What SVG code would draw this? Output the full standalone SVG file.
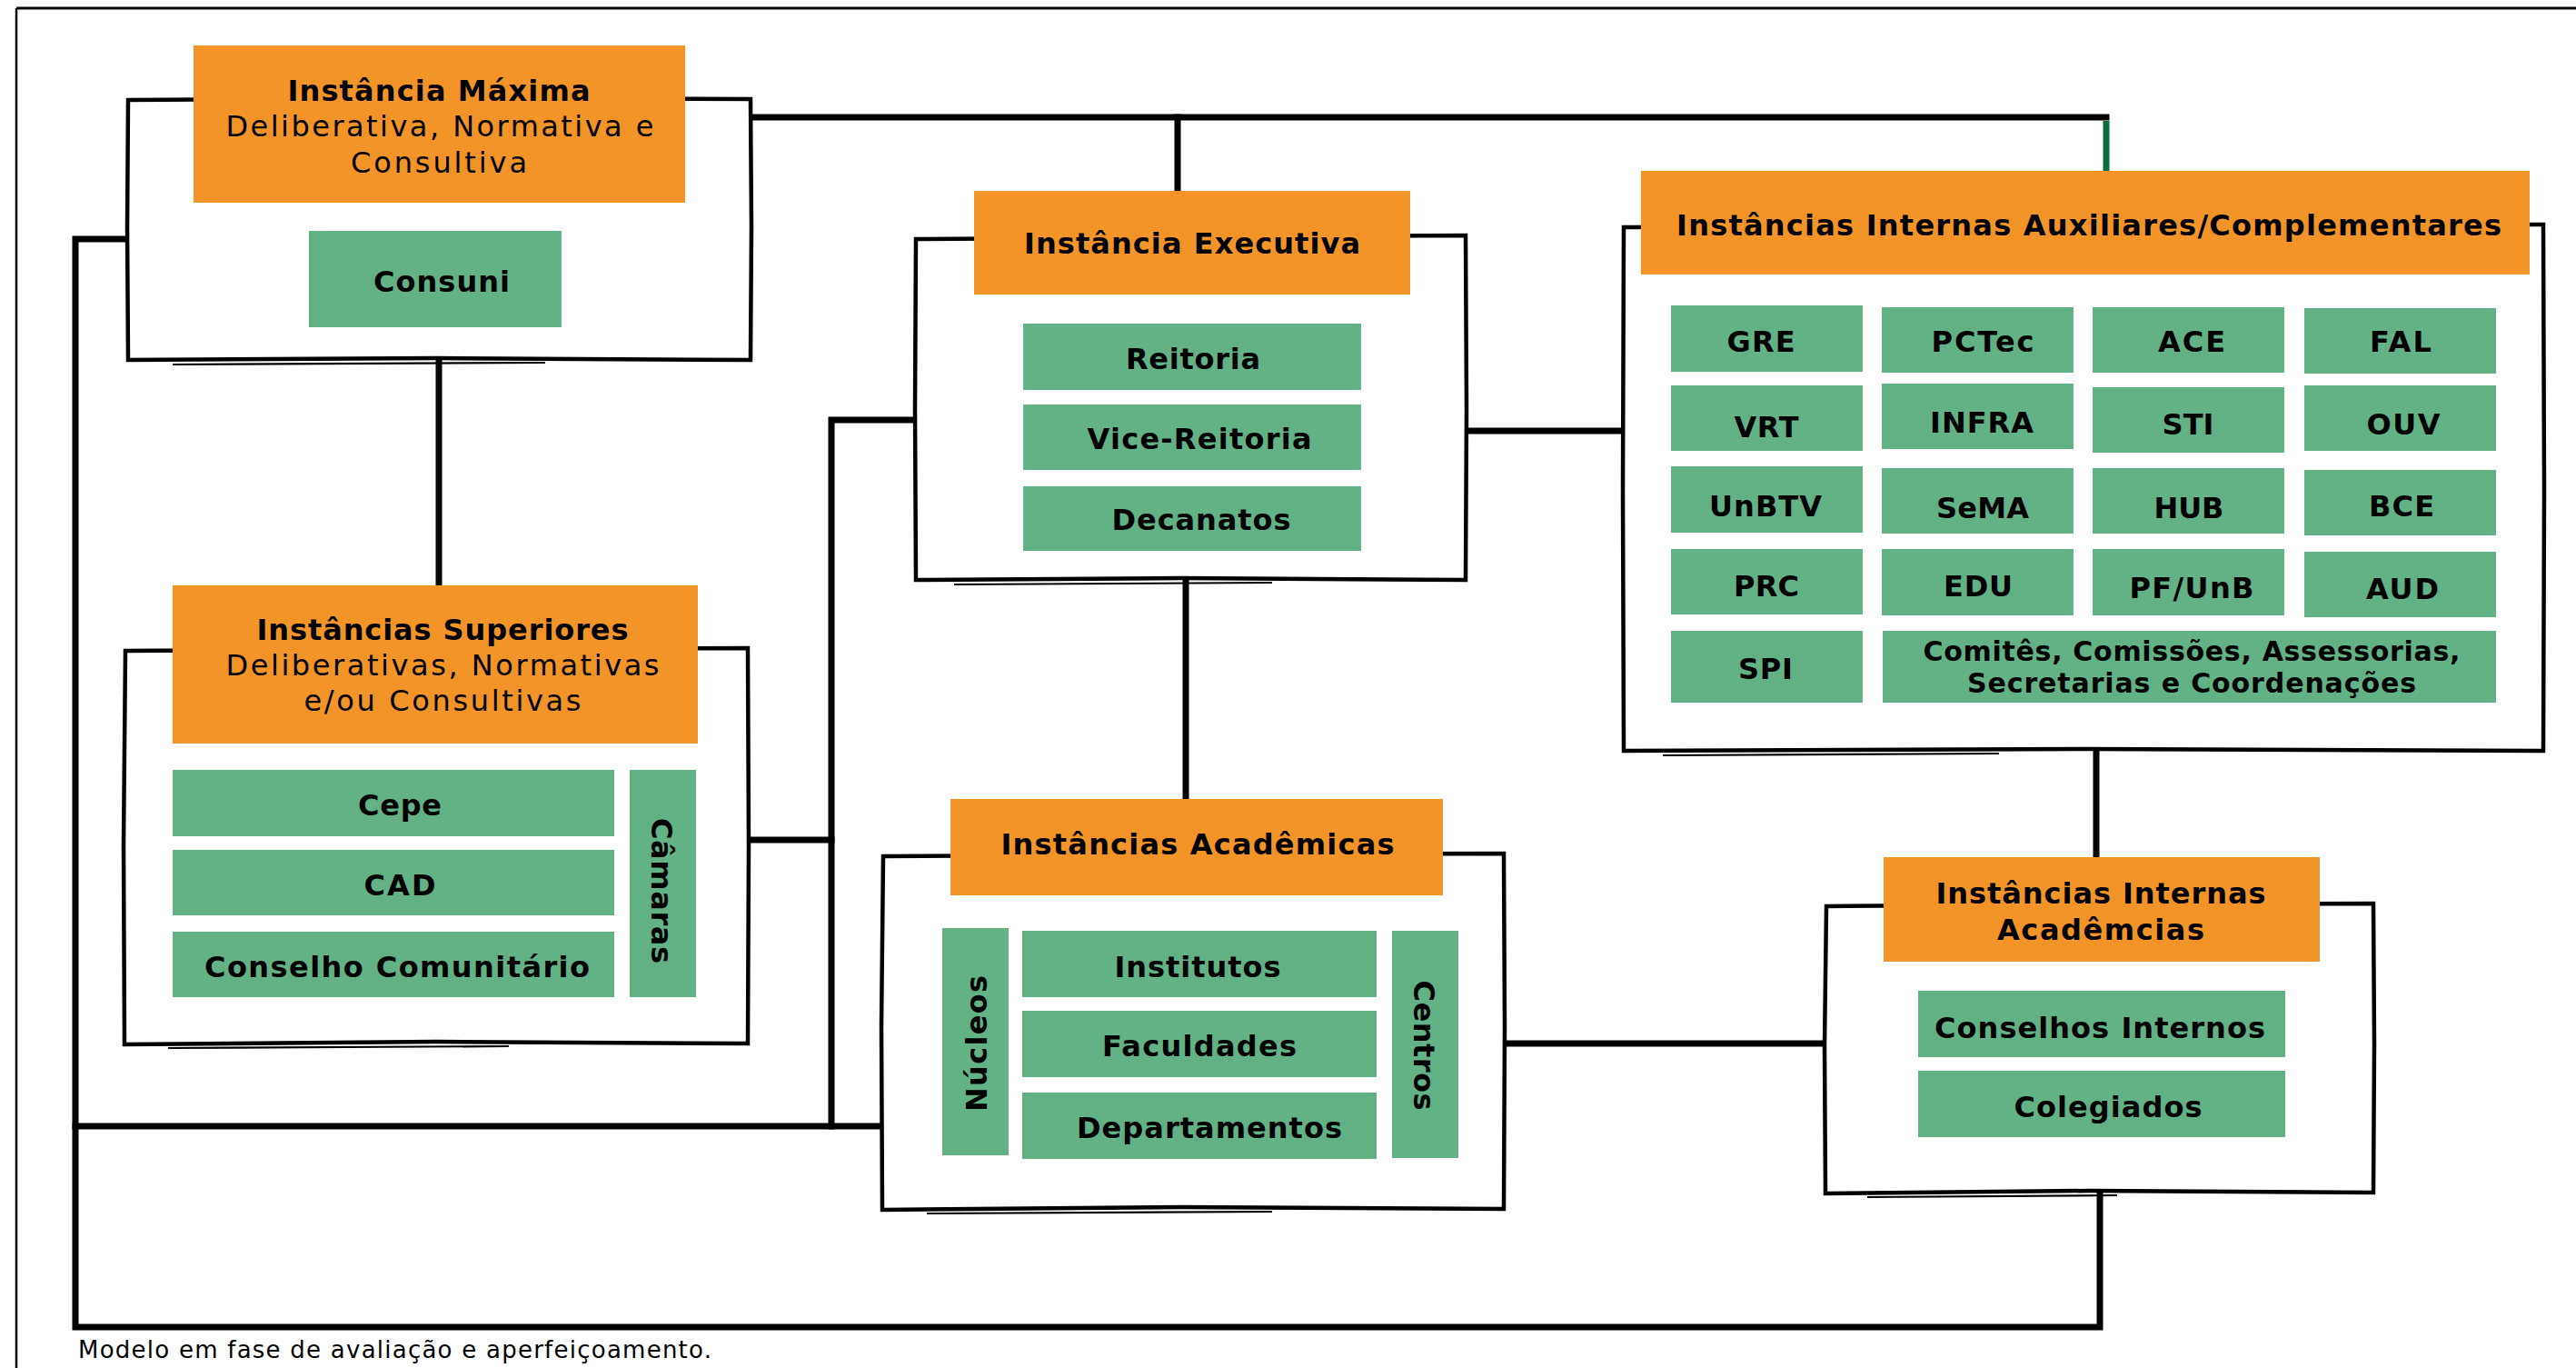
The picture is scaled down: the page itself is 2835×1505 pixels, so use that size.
<svg xmlns="http://www.w3.org/2000/svg" width="2835" height="1505" viewBox="0 0 2835 1505">
<style>
.box{fill:#ffffff;stroke:#000;stroke-width:4.5;stroke-linejoin:miter}
.sk{fill:none;stroke:#000;stroke-width:2.2}
.or{fill:#F29427}
.gr{fill:#63B286}
.cn{fill:none;stroke:#000;stroke-width:7;stroke-linecap:square}
.b{font-family:"DejaVu Sans","Open Sans",sans-serif;font-weight:700;font-size:32px;fill:#000;text-anchor:middle}
.s{font-family:"DejaVu Sans","Open Sans",sans-serif;font-weight:700;font-size:30px;fill:#000;text-anchor:middle}
.r{font-family:"DejaVu Sans","Open Sans",sans-serif;font-weight:400;font-size:32px;fill:#000;text-anchor:middle}
.f{font-family:"DejaVu Sans","Open Sans",sans-serif;font-weight:400;font-size:26px;fill:#000}
</style>
<rect width="2835" height="1505" fill="#fff"/>
<g id="frame">
<path d="M18,9 L2835,9" stroke="#000" stroke-width="3" fill="none"/>
<path d="M18,9 L18,1505" stroke="#000" stroke-width="2.5" fill="none"/>
</g>
<g id="connectors">
<path class="cn" d="M826,129 L2318,129"/>
<path d="M2318,133 L2318,190" stroke="#0B6B3A" stroke-width="7" fill="none"/>
<path class="cn" d="M1296,129 L1296,210"/>
<path class="cn" d="M141,263 L83,263 L83,1460 L2311,1460 L2311,1312"/>
<path class="cn" d="M483,396 L483,644"/>
<path class="cn" d="M83,1239 L971,1239"/>
<path class="cn" d="M1007,462 L915,462 L915,1239"/>
<path class="cn" d="M823,924 L915,924"/>
<path class="cn" d="M1613,474 L1786,474"/>
<path class="cn" d="M1305,638 L1305,879"/>
<path class="cn" d="M1655,1148 L2009,1148"/>
<path class="cn" d="M2307,826 L2307,943"/>
</g>
<g id="maxima">
<path class="box" d="M141,110 L480,108 L826,109 L827,250 L826,396 L480,394 L141,396 L140,250 Z"/>
<path class="sk" d="M190,401 L600,399"/>
<rect class="or" x="213" y="50" width="541" height="173"/>
<text class="b" x="483" y="111" textLength="333" lengthAdjust="spacing">Instância Máxima</text>
<text class="r" x="484" y="150" textLength="471" lengthAdjust="spacing">Deliberativa, Normativa e</text>
<text class="r" x="483" y="190" textLength="194" lengthAdjust="spacing">Consultiva</text>
<rect class="gr" x="340" y="254" width="278" height="106"/>
<text class="b" x="486" y="321" textLength="150" lengthAdjust="spacing">Consuni</text>
</g>
<g id="executiva">
<path class="box" d="M1008,263 L1300,261 L1613,259 L1614,450 L1613,638 L1300,636 L1008,638 L1007,450 Z"/>
<path class="sk" d="M1050,643 L1400,641"/>
<rect class="or" x="1072" y="210" width="480" height="114"/>
<text class="b" x="1312" y="279" textLength="370" lengthAdjust="spacing">Instância Executiva</text>
<rect class="gr" x="1126" y="356" width="372" height="73"/>
<text class="b" x="1313" y="406" textLength="148" lengthAdjust="spacing">Reitoria</text>
<rect class="gr" x="1126" y="445" width="372" height="72"/>
<text class="b" x="1320" y="494" textLength="247" lengthAdjust="spacing">Vice-Reitoria</text>
<rect class="gr" x="1126" y="535" width="372" height="71"/>
<text class="b" x="1322" y="583" textLength="197" lengthAdjust="spacing">Decanatos</text>
</g>
<g id="auxiliares">
<path class="box" d="M1787,250 L2300,249 L2799,247 L2800,540 L2799,826 L2300,824 L1787,826 L1786,540 Z"/>
<path class="sk" d="M1830,831 L2200,829"/>
<rect class="or" x="1806" y="188" width="978" height="114"/>
<text class="b" x="2299" y="259" textLength="908" lengthAdjust="spacing">Instâncias Internas Auxiliares/Complementares</text>
<rect class="gr" x="1839" y="336" width="211" height="73"/>
<rect class="gr" x="2071" y="338" width="211" height="72"/>
<rect class="gr" x="2303" y="338" width="211" height="72"/>
<rect class="gr" x="2536" y="339" width="211" height="72"/>
<rect class="gr" x="1839" y="424" width="211" height="72"/>
<rect class="gr" x="2071" y="422" width="211" height="72"/>
<rect class="gr" x="2303" y="426" width="211" height="72"/>
<rect class="gr" x="2536" y="424" width="211" height="72"/>
<rect class="gr" x="1839" y="513" width="211" height="73"/>
<rect class="gr" x="2071" y="515" width="211" height="72"/>
<rect class="gr" x="2303" y="515" width="211" height="72"/>
<rect class="gr" x="2536" y="517" width="211" height="72"/>
<rect class="gr" x="1839" y="604" width="211" height="72"/>
<rect class="gr" x="2071" y="604" width="211" height="73"/>
<rect class="gr" x="2303" y="604" width="211" height="73"/>
<rect class="gr" x="2536" y="607" width="211" height="72"/>
<rect class="gr" x="1839" y="694" width="211" height="79"/>
<rect class="gr" x="2072" y="694" width="675" height="79"/>
<text class="b" x="1938" y="387" textLength="75" lengthAdjust="spacing">GRE</text>
<text class="b" x="2182" y="387" textLength="113" lengthAdjust="spacing">PCTec</text>
<text class="b" x="2412" y="387" textLength="74" lengthAdjust="spacing">ACE</text>
<text class="b" x="2642" y="387" textLength="68" lengthAdjust="spacing">FAL</text>
<text class="b" x="1944" y="481" textLength="71" lengthAdjust="spacing">VRT</text>
<text class="b" x="2181" y="476" textLength="114" lengthAdjust="spacing">INFRA</text>
<text class="b" x="2408" y="478" textLength="57" lengthAdjust="spacing">STI</text>
<text class="b" x="2645" y="478" textLength="81" lengthAdjust="spacing">OUV</text>
<text class="b" x="1943" y="568" textLength="124" lengthAdjust="spacing">UnBTV</text>
<text class="b" x="2182" y="570" textLength="102" lengthAdjust="spacing">SeMA</text>
<text class="b" x="2409" y="570" textLength="77" lengthAdjust="spacing">HUB</text>
<text class="b" x="2643" y="568" textLength="72" lengthAdjust="spacing">BCE</text>
<text class="b" x="1944" y="656" textLength="72" lengthAdjust="spacing">PRC</text>
<text class="b" x="2177" y="656" textLength="76" lengthAdjust="spacing">EDU</text>
<text class="b" x="2412" y="658" textLength="137" lengthAdjust="spacing">PF/UnB</text>
<text class="b" x="2644" y="659" textLength="80" lengthAdjust="spacing">AUD</text>
<text class="b" x="1943" y="747" textLength="60" lengthAdjust="spacing">SPI</text>
<text class="s" x="2412" y="727" textLength="591" lengthAdjust="spacing">Comitês, Comissões, Assessorias,</text>
<text class="s" x="2412" y="762" textLength="494" lengthAdjust="spacing">Secretarias e Coordenações</text>
</g>
<g id="superiores">
<path class="box" d="M138,716 L480,714 L823,713 L824,930 L823,1148 L480,1146 L137,1149 L136,930 Z"/>
<path class="sk" d="M185,1153 L560,1151"/>
<rect class="or" x="190" y="644" width="578" height="174"/>
<text class="b" x="487" y="704" textLength="409" lengthAdjust="spacing">Instâncias Superiores</text>
<text class="r" x="487" y="743" textLength="477" lengthAdjust="spacing">Deliberativas, Normativas</text>
<text class="r" x="487" y="782" textLength="305" lengthAdjust="spacing">e/ou Consultivas</text>
<rect class="gr" x="190" y="847" width="486" height="73"/>
<text class="b" x="440" y="897" textLength="92" lengthAdjust="spacing">Cepe</text>
<rect class="gr" x="190" y="935" width="486" height="72"/>
<text class="b" x="440" y="985" textLength="79" lengthAdjust="spacing">CAD</text>
<rect class="gr" x="190" y="1025" width="486" height="72"/>
<text class="b" x="437" y="1075" textLength="424" lengthAdjust="spacing">Conselho Comunitário</text>
<rect class="gr" x="693" y="847" width="73" height="250"/>
<text class="b" transform="translate(717,980) rotate(90)" x="0" y="0" textLength="160" lengthAdjust="spacing">Câmaras</text>
</g>
<g id="academicas">
<path class="box" d="M972,942 L1300,940 L1655,939 L1656,1130 L1655,1330 L1300,1328 L971,1331 L970,1130 Z"/>
<path class="sk" d="M1020,1335 L1400,1333"/>
<rect class="or" x="1046" y="879" width="542" height="106"/>
<text class="b" x="1318" y="940" textLength="433" lengthAdjust="spacing">Instâncias Acadêmicas</text>
<rect class="gr" x="1037" y="1021" width="73" height="250"/>
<text class="b" transform="translate(1086,1148) rotate(-90)" x="0" y="0" textLength="150" lengthAdjust="spacing">Núcleos</text>
<rect class="gr" x="1125" y="1024" width="390" height="73"/>
<text class="b" x="1318" y="1075" textLength="183" lengthAdjust="spacing">Institutos</text>
<rect class="gr" x="1125" y="1112" width="390" height="73"/>
<text class="b" x="1320" y="1162" textLength="214" lengthAdjust="spacing">Faculdades</text>
<rect class="gr" x="1125" y="1202" width="390" height="73"/>
<text class="b" x="1331" y="1252" textLength="292" lengthAdjust="spacing">Departamentos</text>
<rect class="gr" x="1532" y="1024" width="73" height="250"/>
<text class="b" transform="translate(1556,1150) rotate(90)" x="0" y="0" textLength="143" lengthAdjust="spacing">Centros</text>
</g>
<g id="internas-academicas">
<path class="box" d="M2010,997 L2300,995 L2612,994 L2613,1150 L2612,1312 L2300,1310 L2009,1313 L2008,1150 Z"/>
<path class="sk" d="M2055,1317 L2330,1315"/>
<rect class="or" x="2073" y="943" width="480" height="115"/>
<text class="b" x="2312" y="994" textLength="363" lengthAdjust="spacing">Instâncias Internas</text>
<text class="b" x="2312" y="1034" textLength="228" lengthAdjust="spacing">Acadêmcias</text>
<rect class="gr" x="2111" y="1090" width="404" height="73"/>
<text class="b" x="2311" y="1142" textLength="364" lengthAdjust="spacing">Conselhos Internos</text>
<rect class="gr" x="2111" y="1178" width="404" height="73"/>
<text class="b" x="2320" y="1229" textLength="207" lengthAdjust="spacing">Colegiados</text>
</g>
<text class="f" x="86" y="1494" textLength="697" lengthAdjust="spacing">Modelo em fase de avaliação e aperfeiçoamento.</text>
</svg>
